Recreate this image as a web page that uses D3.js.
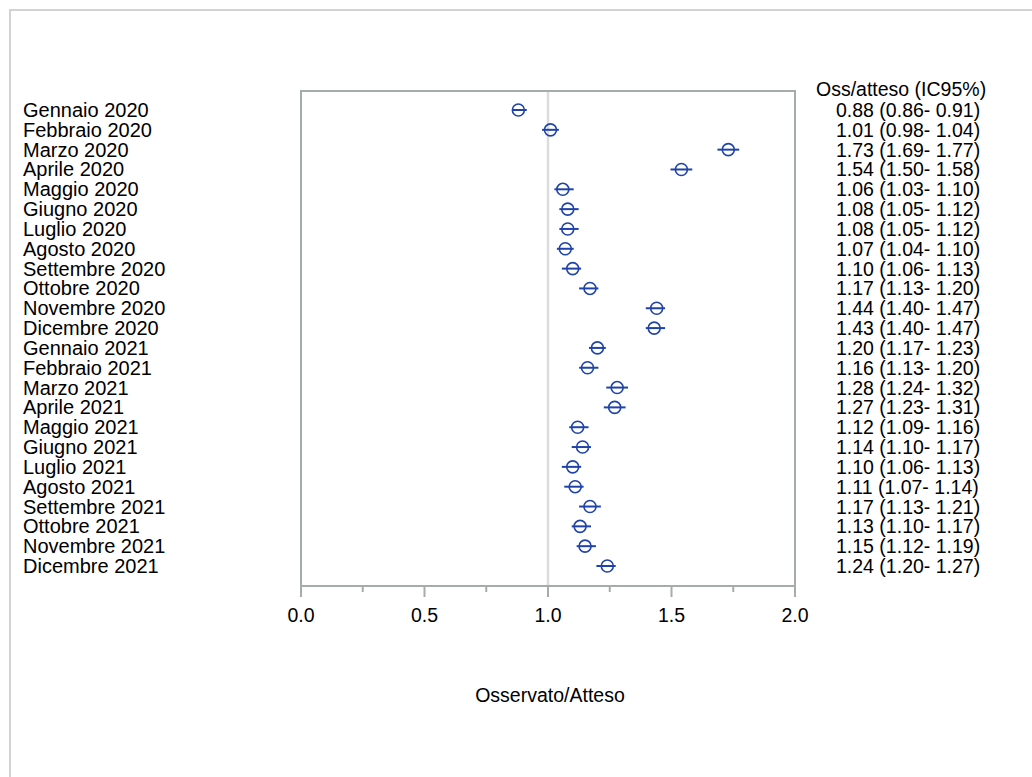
<!DOCTYPE html>
<html>
<head>
<meta charset="utf-8">
<script src="https://cdn.jsdelivr.net/npm/d3@7"></script>
<style>
  body { margin: 0; background: #fff; }
  text { font-family: "Liberation Sans", Arial, sans-serif; fill: #000; }
</style>
</head>
<body>
<div id="chart"></div>
<script>
// months shown on the left
var months = ["Gennaio 2020", "Febbraio 2020", "Marzo 2020", "Aprile 2020", "Maggio 2020",
  "Giugno 2020", "Luglio 2020", "Agosto 2020", "Settembre 2020", "Ottobre 2020",
  "Novembre 2020", "Dicembre 2020", "Gennaio 2021", "Febbraio 2021", "Marzo 2021",
  "Aprile 2021", "Maggio 2021", "Giugno 2021", "Luglio 2021", "Agosto 2021",
  "Settembre 2021", "Ottobre 2021", "Novembre 2021", "Dicembre 2021"];

// observed / expected and 95% CI
var ratio = [0.88, 1.01, 1.73, 1.54, 1.06, 1.08, 1.08, 1.07, 1.10, 1.17, 1.44, 1.43,
  1.20, 1.16, 1.28, 1.27, 1.12, 1.14, 1.10, 1.11, 1.17, 1.13, 1.15, 1.24];
var ciLow = [0.86, 0.98, 1.69, 1.50, 1.03, 1.05, 1.05, 1.04, 1.06, 1.13, 1.40, 1.40,
  1.17, 1.13, 1.24, 1.23, 1.09, 1.10, 1.06, 1.07, 1.13, 1.10, 1.12, 1.20];
var ciHigh = [0.91, 1.04, 1.77, 1.58, 1.10, 1.12, 1.12, 1.10, 1.13, 1.20, 1.47, 1.47,
  1.23, 1.20, 1.32, 1.31, 1.16, 1.17, 1.13, 1.14, 1.21, 1.17, 1.19, 1.27];

var xTicks = [0, 0.5, 1, 1.5, 2];
var xMinor = [0.25, 0.75, 1.25, 1.75];

var width = 1032, height = 777;
var plot = {left: 301, right: 795, top: 91, bottom: 586};

var svg = d3.select("#chart").append("svg")
    .attr("width", width)
    .attr("height", height);

// outer border
svg.append("rect")
    .attr("x", 10).attr("y", 10)
    .attr("width", 1040).attr("height", 800)
    .attr("fill", "none")
    .attr("stroke", "#d3d3d3")
    .attr("stroke-width", 2);

var x = d3.scaleLinear().domain([0, 2]).range([plot.left, plot.right]);
var y = d3.scalePoint().domain(months).range([110, 566]);

var data = months.map(function(m, i) {
  return {month: m, r: ratio[i], lo: ciLow[i], hi: ciHigh[i]};
});

// reference line at 1
svg.append("line")
    .attr("x1", x(1)).attr("x2", x(1))
    .attr("y1", plot.top).attr("y2", plot.bottom)
    .attr("stroke", "#dcdcdc")
    .attr("stroke-width", 2.5);

// plot frame
svg.append("rect")
    .attr("x", plot.left).attr("y", plot.top)
    .attr("width", plot.right - plot.left)
    .attr("height", plot.bottom - plot.top)
    .attr("fill", "none")
    .attr("stroke", "#a6abab")
    .attr("stroke-width", 2);

// ticks
svg.selectAll(".major").data(xTicks).enter().append("line")
    .attr("x1", function(d) { return x(d); }).attr("x2", function(d) { return x(d); })
    .attr("y1", plot.bottom).attr("y2", plot.bottom + 11)
    .attr("stroke", "#a6abab").attr("stroke-width", 2);
svg.selectAll(".minor").data(xMinor).enter().append("line")
    .attr("x1", function(d) { return x(d); }).attr("x2", function(d) { return x(d); })
    .attr("y1", plot.bottom).attr("y2", plot.bottom + 6)
    .attr("stroke", "#a6abab").attr("stroke-width", 2);

svg.selectAll(".tlab").data(xTicks).enter().append("text")
    .attr("x", function(d) { return x(d); })
    .attr("y", 622)
    .attr("text-anchor", "middle")
    .style("font-size", "19.5px")
    .text(function(d) { return d3.format(".1f")(d); });

svg.append("text")
    .attr("x", 550).attr("y", 702)
    .attr("text-anchor", "middle")
    .style("font-size", "19.5px")
    .text("Osservato/Atteso");

// month labels
svg.selectAll(".mlab").data(data).enter().append("text")
    .attr("x", 23)
    .attr("y", function(d) { return y(d.month) + 7; })
    .style("font-size", "20px")
    .text(function(d) { return d.month; });

// right column
svg.append("text")
    .attr("x", 816).attr("y", 96)
    .style("font-size", "19.5px")
    .text("Oss/atteso (IC95%)");

var f = d3.format(".2f");
svg.selectAll(".vlab").data(data).enter().append("text")
    .attr("x", 836)
    .attr("y", function(d) { return y(d.month) + 7; })
    .style("font-size", "19.5px")
    .text(function(d) { return f(d.r) + " (" + f(d.lo) + "- " + f(d.hi) + ")"; });

// CI bars and markers
var g = svg.append("g");
g.selectAll(".ci").data(data).enter().append("line")
    .attr("x1", function(d) { return x(d.lo) - 1; })
    .attr("x2", function(d) { return x(d.hi) + 1; })
    .attr("y1", function(d) { return y(d.month); })
    .attr("y2", function(d) { return y(d.month); })
    .attr("stroke", "#1f43a8")
    .attr("stroke-width", 2);
g.selectAll(".pt").data(data).enter().append("circle")
    .attr("cx", function(d) { return x(d.r); })
    .attr("cy", function(d) { return y(d.month); })
    .attr("r", 6)
    .attr("fill", "none")
    .attr("stroke", "#1f43a8")
    .attr("stroke-width", 1.6);
</script>
</body>
</html>
